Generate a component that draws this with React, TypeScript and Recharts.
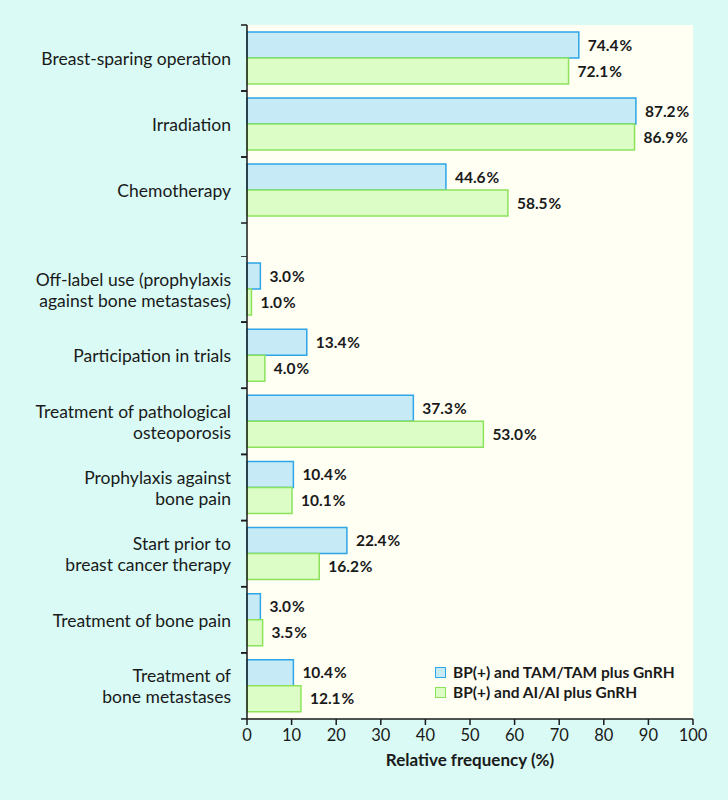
import React from 'react';
import { BarChart, Bar, XAxis, YAxis, CartesianGrid, LabelList, Legend } from 'recharts';

// therapy categories (upper block) and BP indications (lower block)
const therapyCategories = ['Breast-sparing operation', 'Irradiation', 'Chemotherapy'];
const therapyTam = [74.4, 87.2, 44.6];
const therapyAi = [72.1, 86.9, 58.5];

const bpCategories = [
  'Off-label use (prophylaxis\nagainst bone metastases)',
  'Participation in trials',
  'Treatment of pathological\nosteoporosis',
  'Prophylaxis against\nbone pain',
  'Start prior to\nbreast cancer therapy',
  'Treatment of bone pain',
  'Treatment of\nbone metastases',
];
const bpTam = [3.0, 13.4, 37.3, 10.4, 22.4, 3.0, 10.4];
const bpAi = [1.0, 4.0, 53.0, 10.1, 16.2, 3.5, 12.1];

const xTicks = [0, 10, 20, 30, 40, 50, 60, 70, 80, 90, 100];
const seriesNames = ['BP(+) and TAM/TAM plus GnRH', 'BP(+) and AI/AI plus GnRH'];

const FONT = 'Lato, "Noto Sans", sans-serif';
const INK = '#1a1a1a';
const BG = '#d9faf5';
const PLOT_BG = '#fffff4';
const TAM_FILL = '#c6ebf6';
const TAM_STROKE = '#2ea5e6';
const AI_FILL = '#ddfdc6';
const AI_STROKE = '#8ce35b';
const BAND = 66;

const toRows = (names: string[], tam: number[], ai: number[]) =>
  names.map((name, i) => ({ name, tam: tam[i], ai: ai[i] }));

const therapyData = toRows(therapyCategories, therapyTam, therapyAi);
const bpData = toRows(bpCategories, bpTam, bpAi);

const fmt = (v: any) => `${Number(v).toFixed(1)}\u200A%`;

const CategoryTick = (props: any) => {
  const { x, y, payload } = props;
  const lines = String(payload.value).split('\n');
  const lh = 21;
  const start = y - ((lines.length - 1) * lh) / 2;
  const ax = x + 16;
  return (
    <g>
      <line x1={ax - 6} x2={ax} y1={y - BAND / 2} y2={y - BAND / 2} stroke={INK} strokeWidth={1.5} />
      <line x1={ax - 6} x2={ax} y1={y + BAND / 2} y2={y + BAND / 2} stroke={INK} strokeWidth={1.5} />
      <text x={x} y={start} textAnchor="end" dominantBaseline="central" fontSize={17.5} fill={INK} fontFamily={FONT}>
        {lines.map((l, i) => (
          <tspan key={i} x={x} dy={i === 0 ? 0 : lh}>{l}</tspan>
        ))}
      </text>
    </g>
  );
};

const valueLabel = { position: 'right' as const, offset: 9, formatter: fmt, fill: INK, fontSize: 15.5, fontWeight: 700, fontFamily: FONT };

const LegendBox = () => (
  <div style={{ fontFamily: FONT, fontSize: 15.5, fontWeight: 700, color: INK, lineHeight: '20px' }}>
    {seriesNames.map((n, i) => (
      <div key={n} style={{ display: 'flex', alignItems: 'center' }}>
        <span style={{
          display: 'inline-block', width: 9, height: 9, marginRight: 7,
          background: i === 0 ? TAM_FILL : AI_FILL,
          border: `1.5px solid ${i === 0 ? TAM_STROKE : AI_STROKE}`,
        }} />
        {n}
      </div>
    ))}
  </div>
);

const renderBars = () => [
  <Bar key="tam" dataKey="tam" name={seriesNames[0]} fill={TAM_FILL} stroke={TAM_STROKE} strokeWidth={1.5} barSize={26} isAnimationActive={false}>
    <LabelList dataKey="tam" {...valueLabel} />
  </Bar>,
  <Bar key="ai" dataKey="ai" name={seriesNames[1]} fill={AI_FILL} stroke={AI_STROKE} strokeWidth={1.5} barSize={26} isAnimationActive={false}>
    <LabelList dataKey="ai" {...valueLabel} />
  </Bar>,
];

export default function App() {
  return (
    <div style={{ position: 'absolute', left: 0, top: 0, width: 728, height: 800, background: BG, fontFamily: FONT }}>
      <style>{'body{margin:0}'}</style>
      <div style={{ position: 'absolute', left: 0, top: 0 }}>
        <BarChart width={728} height={256} data={therapyData} layout="vertical" barGap={0}
          margin={{ top: 25, right: 35, bottom: 0, left: 0 }}>
          <CartesianGrid horizontal={false} vertical={false} fill={PLOT_BG} />
          <XAxis type="number" domain={[0, 100]} ticks={xTicks} hide />
          <YAxis type="category" dataKey="name" width={247} padding={{ top: 0, bottom: BAND / 2 }}
            axisLine={{ stroke: INK, strokeWidth: 1.5 }} tickLine={false} tickSize={6} tickMargin={10}
            tick={<CategoryTick />} interval={0} />
          {renderBars()}
        </BarChart>
      </div>
      <div style={{ position: 'absolute', left: 0, top: 256 }}>
        <BarChart width={728} height={544} data={bpData} layout="vertical" barGap={0}
          margin={{ top: 0, right: 35, bottom: 21, left: 0 }}>
          <CartesianGrid horizontal={false} vertical={false} fill={PLOT_BG} />
          <XAxis type="number" domain={[0, 100]} ticks={xTicks} height={60} interval={0}
            axisLine={{ stroke: INK, strokeWidth: 1.5 }} tickLine={{ stroke: INK, strokeWidth: 1.5 }}
            tickSize={6} tickMargin={4}
            tick={{ fill: INK, fontSize: 16.5, fontFamily: FONT }}
            label={{ value: 'Relative frequency (%)', position: 'insideBottom', offset: 13, fill: INK, fontSize: 17, fontWeight: 700, fontFamily: FONT }} />
          <YAxis type="category" dataKey="name" width={247}
            axisLine={{ stroke: INK, strokeWidth: 1.5 }} tickLine={false} tickSize={6} tickMargin={10}
            tick={<CategoryTick />} interval={0} />
          {renderBars()}
          <Legend layout="vertical" align="center" verticalAlign="middle" content={<LegendBox />}
            wrapperStyle={{ left: 435, top: 406, width: 'auto', height: 'auto' }} />
        </BarChart>
      </div>
    </div>
  );
}
